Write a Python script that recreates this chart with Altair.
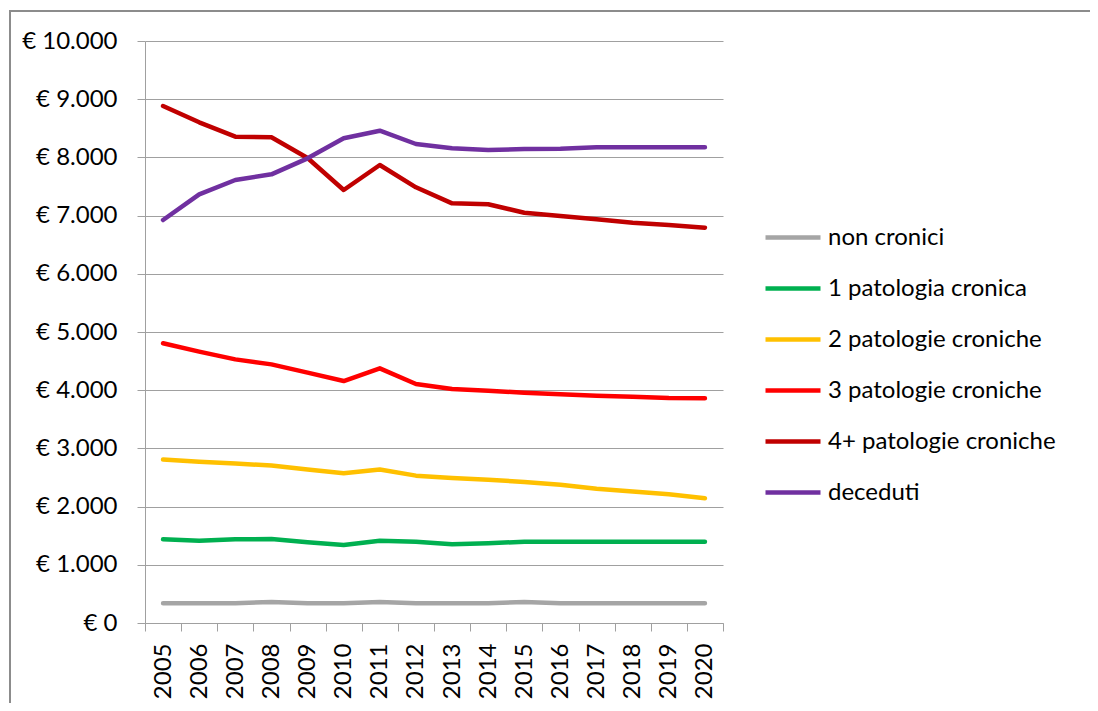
import altair as alt
import pandas as pd

years = [str(y) for y in range(2005, 2021)]
series = ["non cronici", "1 patologia cronica", "2 patologie croniche",
          "3 patologie croniche", "4+ patologie croniche", "deceduti"]
colors = ["#A5A5A5", "#00B050", "#FFC000", "#FF0000", "#C00000", "#7030A0"]

non_cronici = [338, 338, 338, 362, 338, 338, 362, 338, 338, 338, 362, 338, 338, 338, 338, 338]
pat1 = [1437, 1414, 1437, 1443, 1386, 1340, 1414, 1397, 1352, 1369, 1397, 1397, 1397, 1397, 1397, 1397]
pat2 = [2809, 2769, 2740, 2705, 2636, 2572, 2636, 2532, 2491, 2462, 2422, 2376, 2306, 2260, 2214, 2145]
pat3 = [4806, 4662, 4530, 4444, 4301, 4158, 4376, 4107, 4021, 3992, 3957, 3929, 3906, 3889, 3866, 3860]
pat4 = [8883, 8603, 8356, 8345, 7990, 7440, 7869, 7486, 7211, 7194, 7050, 6993, 6936, 6878, 6838, 6792]
deceduti = [6924, 7365, 7612, 7709, 7984, 8328, 8459, 8230, 8156, 8127, 8144, 8150, 8173, 8173, 8173, 8173]

y_ticks = list(range(0, 10001, 1000))

rows = []
for name, vals in zip(series, [non_cronici, pat1, pat2, pat3, pat4, deceduti]):
    for yr, v in zip(years, vals):
        rows.append({"anno": yr, "serie": name, "valore": v})
df = pd.DataFrame(rows)

GRID = "#A0A0A0"
FONT = "Lato"

one = alt.Data(values=[{"k": 1}])
frame_top = alt.Chart(one).mark_rule(stroke="#8C8C8C", strokeWidth=2).encode(
    x=alt.value(-136), x2=alt.value(960), y=alt.value(-30)
)
frame_left = alt.Chart(one).mark_rule(stroke="#8C8C8C", strokeWidth=2).encode(
    x=alt.value(-135), y=alt.value(-31), y2=alt.value(700)
)

lines = alt.Chart(df).mark_line(strokeWidth=4.5, strokeCap="round", strokeJoin="round").encode(
    x=alt.X("anno:O", sort=years,
            scale=alt.Scale(type="band", paddingInner=0, paddingOuter=0),
            bandPosition=0.5,
            axis=alt.Axis(title=None, labelAngle=-90, labelAlign="right", labelBaseline="middle",
                          tickBand="extent", grid=False, domainColor=GRID, tickColor=GRID,
                          tickSize=8, labelPadding=12, labelFont=FONT, labelFontSize=24,
                          labelColor="#000000")),
    y=alt.Y("valore:Q", scale=alt.Scale(domain=[0, 10000], nice=False),
            axis=alt.Axis(title=None, values=y_ticks,
                          labelExpr="'€ ' + replace(format(datum.value, ','), ',', '.')",
                          grid=True, gridColor=GRID, domainColor=GRID, tickColor=GRID,
                          tickSize=8, labelPadding=20, labelFont=FONT, labelFontSize=24,
                          labelColor="#000000", labelFlush=False)),
    color=alt.Color("serie:N", sort=series,
                    scale=alt.Scale(domain=series, range=colors),
                    legend=alt.Legend(title=None, orient="none", legendX=618, legendY=171,
                                      symbolType="stroke", symbolSize=3025, symbolStrokeWidth=4.5,
                                      labelFont=FONT, labelFontSize=24, labelColor="#000000",
                                      labelOffset=5, clipHeight=51, rowPadding=0, padding=0,
                                      labelLimit=400)),
    order=alt.Order("anno:O"),
)

chart = alt.layer(frame_top, frame_left, lines).properties(
    width=578, height=582,
    autosize=alt.AutoSizeParams(type="none"),
    padding={"left": 137, "top": 33, "right": 367, "bottom": 80},
).configure_view(stroke=None)

chart.save("out.html", embed_options={"renderer": "svg", "actions": False})
